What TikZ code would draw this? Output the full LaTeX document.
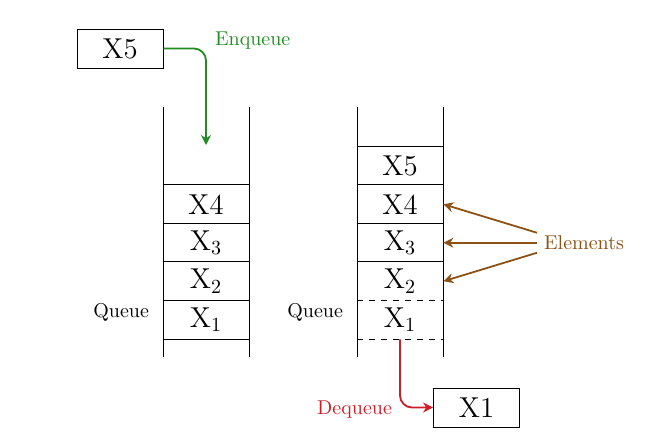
\documentclass[tikz,border=0pt]{standalone}
\usepackage{xcolor}
\usepackage{tikz}
\usetikzlibrary{arrows.meta,positioning}

\definecolor{enqgreen}{RGB}{34,140,34}
\definecolor{elembrown}{RGB}{140,82,20}
\definecolor{deqred}{RGB}{205,30,40}

\begin{document}
\begin{tikzpicture}[x=0.5pt, y=-0.5pt,
  item/.style={draw, line width=0.45pt, minimum width=43pt, minimum height=19.5pt, inner sep=0pt, font=\Large},
  slot/.style={minimum width=43pt, minimum height=19.25pt, inner sep=0pt, font=\Large},
  wall/.style={line width=0.45pt},
  enq/.style={-{Stealth[length=5pt,width=5pt]}, line width=0.9pt, enqgreen, rounded corners=6pt},
  deq/.style={-{Stealth[length=5pt,width=5pt]}, line width=0.9pt, deqred, rounded corners=6pt},
  point/.style={-{Stealth[length=5pt,width=5pt]}, line width=0.9pt, elembrown}]
\useasboundingbox (0,0) rectangle (659,446);
% enqueue side
\node[item] (in) at (120,48.5) {X5};
\node[slot] (l4) at (206,204.25) {X4};
\node[slot] (l3) at (206,242.75) {X$_3$};
\node[slot] (l2) at (206,281.25) {X$_2$};
\node[slot] (l1) at (206,319.75) {X$_1$};
\draw[wall] (l4.north west) -- (l4.north east) (l3.north west) -- (l3.north east)
  (l2.north west) -- (l2.north east) (l1.north west) -- (l1.north east)
  (l1.south west) -- (l1.south east);
\draw[wall] (163,107) -- (163,357) (249,107) -- (249,357);
\node[anchor=east] (lq) at (156,312) {Queue};
\coordinate (drop) at (206,145);
\draw[enq] (in.east) -| (drop);
\node[anchor=west, text=enqgreen] (enqlbl) at (208,41) {Enqueue};
% dequeue side
\node[slot] (r5) at (400,165.75) {X5};
\node[slot] (r4) at (400,204.25) {X4};
\node[slot] (r3) at (400,242.75) {X$_3$};
\node[slot] (r2) at (400,281.25) {X$_2$};
\node[slot] (r1) at (400,319.75) {X$_1$};
\draw[wall] (r5.north west) -- (r5.north east) (r4.north west) -- (r4.north east)
  (r3.north west) -- (r3.north east) (r2.north west) -- (r2.north east);
\draw[wall, dashed] (r1.north west) -- (r1.north east) (r1.south west) -- (r1.south east);
\draw[wall] (357,107) -- (357,357) (443,107) -- (443,357);
\node[anchor=east] (rq) at (350,312) {Queue};
\node[item] (out) at (476.5,407.5) {X1};
\draw[deq] (r1.south) |- (out.west);
\node[anchor=east, text=deqred] (deqlbl) at (399,410) {Dequeue};
% pointers
\node[anchor=west, text=elembrown] (elem) at (537,242.75) {Elements};
\draw[point] ([yshift=5pt]elem.west) -- (r4.east);
\draw[point] (elem.west) -- (r3.east);
\draw[point] ([yshift=-5pt]elem.west) -- (r2.east);
\end{tikzpicture}
\end{document}
